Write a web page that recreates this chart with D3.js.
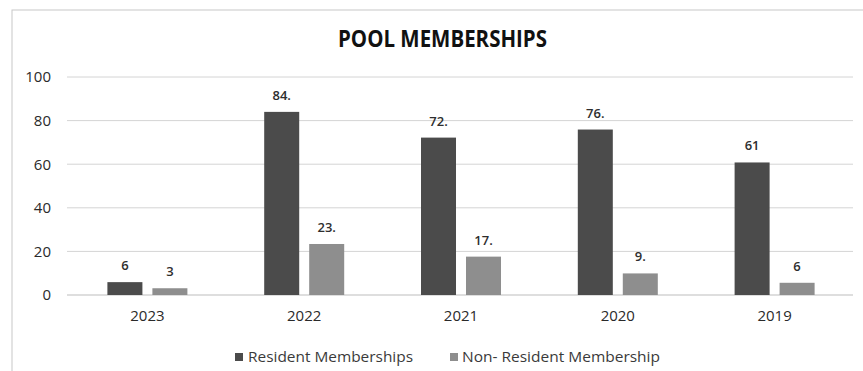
<!DOCTYPE html>
<html>
<head>
<meta charset="utf-8">
<script src="https://cdn.jsdelivr.net/npm/d3@7"></script>
<style>
  html, body { margin: 0; padding: 0; background: #fff; }
  svg { display: block; }
  text { font-family: "Open Sans", "Noto Sans", sans-serif; }
</style>
</head>
<body>
<svg id="chart" width="863" height="371"></svg>
<script>
// ---- data ----
const categories = ["2023", "2022", "2021", "2020", "2019"];
const seriesNames = ["Resident Memberships", "Non- Resident Membership"];
const residentValues = [5.9, 84, 72.2, 75.9, 60.8];
const nonResidentValues = [3.1, 23.4, 17.6, 9.9, 5.6];
const residentLabels = ["6", "84.", "72.", "76.", "61"];
const nonResidentLabels = ["3", "23.", "17.", "9.", "6"];
const yTicks = [0, 20, 40, 60, 80, 100];
const chartTitle = "POOL MEMBERSHIPS";

const colors = ["#4b4b4b", "#8e8e8e"];

const svg = d3.select("#chart");

// frame
svg.append("rect")
  .attr("x", 12).attr("y", 10)
  .attr("width", 900).attr("height", 420)
  .attr("fill", "none").attr("stroke", "#c8c8c8").attr("stroke-width", 1);

const plot = { left: 69, right: 853, top: 77, bottom: 295 };

const x0 = d3.scaleBand().domain(categories).range([plot.left, plot.right]).padding(0);
const x1 = d3.scaleBand().domain(seriesNames)
  .range([x0.bandwidth() / 2 - 40, x0.bandwidth() / 2 + 40]).paddingInner(0.222);
const y = d3.scaleLinear().domain([0, 100]).range([plot.bottom, plot.top]);

// gridlines
svg.append("g").selectAll("line").data(yTicks).join("line")
  .attr("x1", plot.left - 2).attr("x2", plot.right)
  .attr("y1", d => y(d)).attr("y2", d => y(d))
  .attr("stroke", d => d === 0 ? "#bdbdbd" : "#d4d4d4").attr("stroke-width", 1);

// y axis labels
const yAxis = d3.axisLeft(y).tickValues(yTicks).tickSize(0).tickPadding(0);
const gy = svg.append("g").attr("transform", "translate(51,0)").call(yAxis);
gy.select(".domain").remove();
gy.selectAll("text").attr("font-size", 15).attr("fill", "#2a2a2a")
  .style("font-family", '"Open Sans", sans-serif');

// x axis labels
const xAxis = d3.axisBottom(x0).tickSize(0).tickPadding(0);
const gx = svg.append("g").attr("transform", `translate(0,${plot.bottom + 15})`).call(xAxis);
gx.select(".domain").remove();
gx.selectAll("text").attr("font-size", 15).attr("fill", "#2a2a2a")
  .style("font-family", '"Open Sans", sans-serif');

// bars
const rows = categories.map((c, i) => ({
  cat: c,
  vals: [
    { s: seriesNames[0], v: residentValues[i], lab: residentLabels[i], k: 0 },
    { s: seriesNames[1], v: nonResidentValues[i], lab: nonResidentLabels[i], k: 1 }
  ]
}));

const groups = svg.append("g").selectAll("g").data(rows).join("g")
  .attr("transform", d => `translate(${x0(d.cat)},0)`);

groups.selectAll("rect").data(d => d.vals).join("rect")
  .attr("x", d => x1(d.s))
  .attr("y", d => y(d.v))
  .attr("width", x1.bandwidth())
  .attr("height", d => y(0) - y(d.v))
  .attr("fill", d => colors[d.k]);

groups.selectAll("text.lbl").data(d => d.vals).join("text")
  .attr("class", "lbl")
  .attr("x", d => x1(d.s) + x1.bandwidth() / 2)
  .attr("y", d => y(d.v) - 12)
  .attr("text-anchor", "middle")
  .attr("font-size", 13)
  .attr("font-weight", 600)
  .attr("fill", "#2e2e2e")
  .text(d => d.lab);

// title
svg.append("text")
  .attr("x", 442.5).attr("y", 47)
  .attr("text-anchor", "middle")
  .attr("font-size", 23).attr("font-weight", "bold").attr("fill", "#111")
  .attr("textLength", 209).attr("lengthAdjust", "spacingAndGlyphs")
  .text(chartTitle);

// legend
const legendItems = [
  { name: seriesNames[0], sx: 235, tx: 248, w: 165 },
  { name: seriesNames[1], sx: 450, tx: 462, w: 198 }
];
const lg = svg.append("g");
lg.selectAll("rect").data(legendItems).join("rect")
  .attr("x", d => d.sx).attr("y", 353).attr("width", 8).attr("height", 8)
  .attr("fill", (d, i) => colors[i]);
lg.selectAll("text").data(legendItems).join("text")
  .attr("x", d => d.tx).attr("y", 362)
  .attr("font-size", 14).attr("fill", "#3a3a3a")
  .attr("textLength", d => d.w).attr("lengthAdjust", "spacingAndGlyphs")
  .text(d => d.name);
</script>
</body>
</html>
